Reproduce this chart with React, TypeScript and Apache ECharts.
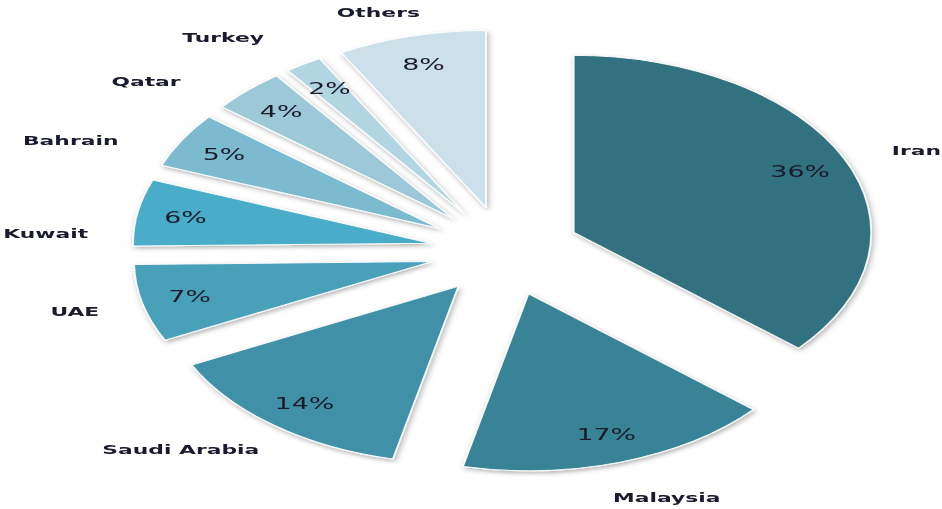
import React, { useEffect, useRef } from "react";
import * as echarts from "echarts";

const categories = ["Iran", "Malaysia", "Saudi Arabia", "UAE", "Kuwait", "Bahrain", "Qatar", "Turkey", "Others"];
const shares = [36, 17, 14, 7, 6, 5, 4, 2, 8];
const colors = ["#31717f", "#388396", "#4090a8", "#48a0b9", "#4aacc8", "#7cbacf", "#9cc8d8", "#b2d5e2", "#cce0ea"];
// small per-label nudges (unstretched px) so names sit where the reference puts them
const nameNudges = [
  [8, 7],
  [15, -1],
  [-32, -6],
  [-3, -1],
  [-17, 28],
  [-33, 19],
  [-34, 19],
  [-27, 5],
  [-10, 13],
];

const SX = 1.68;
const W = 942 / SX;
const H = 509;
const CENTER = [300.6, 251];
const R = 177;
const OFFSET = 45;

export default function App() {
  const ref = useRef<HTMLDivElement>(null);
  useEffect(() => {
    if (!ref.current) return;
    const chart = echarts.init(ref.current, undefined, { renderer: "svg" });
    const base = {
      type: "pie",
      center: CENTER,
      startAngle: 90,
      clockwise: true,
      selectedMode: "multiple",
      selectedOffset: OFFSET,
      avoidLabelOverlap: false,
      labelLine: { show: false },
      emphasis: { disabled: true, scale: false },
      select: { disabled: false },
    };
    const mk = (extra: any) =>
      categories.map((name, i) => ({ name, value: shares[i], selected: true, ...extra(i) }));
    chart.setOption({
      animation: false,
      series: [
        {
          ...base,
          radius: [0, R],
          label: { show: false },
          itemStyle: {
            borderColor: "rgba(255,255,255,0.9)",
            borderWidth: 1,
            shadowBlur: 4,
            shadowColor: "rgba(0,0,0,0.3)",
            shadowOffsetX: 1,
            shadowOffsetY: 2,
          },
          data: mk((i: number) => ({ itemStyle: { color: colors[i] } })),
        },
        {
          ...base,
          silent: true,
          radius: [R * 0.64, R],
          itemStyle: { color: "rgba(0,0,0,0)" },
          label: {
            show: true,
            position: "inside",
            formatter: "{c}%",
            fontFamily: "DejaVu Sans",
            fontSize: 16,
            color: "#1a1a2a",
          },
          data: mk(() => ({})),
        },
        {
          ...base,
          silent: true,
          radius: [R * 1.05, R * 1.35],
          itemStyle: { color: "rgba(0,0,0,0)" },
          label: {
            show: true,
            position: "inside",
            formatter: "{b}",
            fontFamily: "DejaVu Sans",
            fontWeight: "bold",
            fontSize: 13,
            color: "#1b1b2f",
          },
          labelLayout: (p: any) => ({
            dx: nameNudges[p.dataIndex][0],
            dy: nameNudges[p.dataIndex][1],
          }),
          data: mk(() => ({})),
        },
      ],
    });
    return () => chart.dispose();
  }, []);
  return (
    <div style={{ position: "fixed", left: 0, top: 0, width: 942, height: H, overflow: "hidden", background: "#fff" }}>
      <div
        ref={ref}
        style={{ width: W, height: H, transform: `scaleX(${SX})`, transformOrigin: "0 0" }}
      />
    </div>
  );
}
